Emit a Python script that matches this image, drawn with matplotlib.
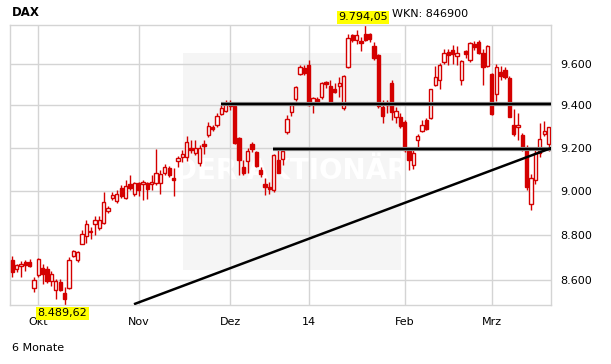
import matplotlib
matplotlib.use('Agg')
import matplotlib.pyplot as plt
from matplotlib.ticker import FixedLocator, NullLocator, FixedFormatter
from matplotlib.patches import Rectangle

# ---------------- data (DAX, daily, ~6 months) ----------------
opens = [8685, 8648, 8660, 8680, 8677, 8565, 8620, 8652, 8649, 8594,
         8554, 8591, 8543, 8565, 8704, 8686, 8759, 8792, 8811, 8849,
         8830, 8853, 8908, 8966, 8951, 9014, 8966, 9030, 8986, 9034,
         9032, 9034, 9032, 9034, 9034, 9081, 9106, 9058, 9135, 9154,
         9154, 9200, 9174, 9127, 9217, 9259, 9296, 9307, 9359, 9375,
         9410, 9399, 9244, 9108, 9139, 9216, 9178, 9096, 9031, 9019,
         9004, 9142, 9145, 9275, 9370, 9429, 9552, 9582, 9595, 9414,
         9429, 9442, 9514, 9493, 9477, 9496, 9387, 9587, 9743, 9718,
         9714, 9751, 9751, 9688, 9644, 9392, 9407, 9506, 9343, 9343,
         9321, 9185, 9120, 9236, 9278, 9332, 9339, 9501, 9522, 9611,
         9660, 9672, 9639, 9522, 9664, 9620, 9701, 9709, 9657, 9590,
         9552, 9455, 9563, 9574, 9535, 9307, 9296, 9259, 9197, 8939,
         9047, 9176, 9264, 9217]
highs = [8704, 8671, 8682, 8689, 8692, 8610, 8694, 8667, 8660, 8638,
         8601, 8605, 8566, 8699, 8733, 8726, 8823, 8864, 8833, 8883,
         8883, 8992, 8931, 8996, 9004, 9027, 9050, 9073, 9042, 9042,
         9050, 9042, 9070, 9192, 9096, 9124, 9112, 9104, 9162, 9189,
         9254, 9236, 9236, 9212, 9236, 9322, 9307, 9362, 9402, 9426,
         9426, 9402, 9251, 9142, 9197, 9228, 9184, 9111, 9058, 9042,
         9171, 9189, 9192, 9354, 9413, 9493, 9595, 9595, 9619, 9442,
         9442, 9514, 9519, 9522, 9509, 9538, 9547, 9751, 9751, 9770,
         9734, 9794.05, 9754, 9709, 9652, 9426, 9426, 9522, 9394, 9362,
         9330, 9200, 9190, 9265, 9330, 9340, 9481, 9590, 9606, 9677,
         9677, 9693, 9688, 9623, 9672, 9709, 9714, 9718, 9677, 9693,
         9555, 9603, 9590, 9587, 9542, 9383, 9364, 9269, 9212, 9078,
         9204, 9314, 9328, 9298]
lows = [8610, 8632, 8610, 8638, 8658, 8546, 8613, 8579, 8587, 8572,
        8514, 8550, 8489.62, 8561, 8701, 8677, 8756, 8763, 8781, 8800,
        8822, 8850, 8898, 8958, 8943, 8966, 8961, 9004, 8974, 8974,
        8958, 8961, 9004, 9027, 8986, 9073, 9065, 8977, 9110, 9132,
        9139, 9174, 9166, 9114, 9171, 9252, 9276, 9296, 9354, 9370,
        9378, 9217, 9073, 9073, 9081, 9181, 9108, 9065, 8981, 8986,
        8996, 9081, 9120, 9264, 9349, 9422, 9547, 9547, 9397, 9365,
        9410, 9429, 9482, 9402, 9458, 9442, 9378, 9579, 9709, 9700,
        9665, 9714, 9709, 9620, 9390, 9317, 9364, 9330, 9317, 9291,
        9180, 9095, 9100, 9200, 9272, 9283, 9334, 9494, 9477, 9603,
        9595, 9603, 9595, 9498, 9628, 9611, 9668, 9652, 9498, 9587,
        9354, 9423, 9522, 9530, 9343, 9255, 9236, 9185, 9004, 8910,
        9030, 9155, 9255, 9183]
closes = [8634, 8664, 8667, 8664, 8660, 8597, 8692, 8627, 8594, 8627,
          8594, 8554, 8517, 8689, 8729, 8723, 8803, 8848, 8818, 8868,
          8868, 8948, 8920, 8981, 8986, 8977, 9022, 9010, 9034, 9004,
          9039, 9007, 9042, 9081, 9076, 9110, 9073, 9050, 9150, 9169,
          9225, 9189, 9200, 9197, 9208, 9302, 9286, 9349, 9387, 9407,
          9399, 9220, 9141, 9083, 9185, 9192, 9112, 9076, 9015, 9007,
          9163, 9083, 9184, 9334, 9402, 9487, 9587, 9558, 9402, 9434,
          9418, 9506, 9503, 9418, 9466, 9508, 9542, 9731, 9718, 9743,
          9704, 9721, 9726, 9628, 9397, 9348, 9402, 9370, 9373, 9302,
          9189, 9140, 9175, 9255, 9305, 9288, 9477, 9538, 9595, 9657,
          9644, 9652, 9657, 9616, 9652, 9704, 9685, 9657, 9584, 9688,
          9358, 9587, 9542, 9538, 9346, 9266, 9307, 9192, 9015, 9058,
          9176, 9241, 9279, 9295]

month_labels = ['Okt', 'Nov', 'Dez', '14', 'Feb', 'Mrz']
month_index = [6, 29, 50, 68, 90, 110]          # first trading day of month
y_ticks = [8600, 8800, 9000, 9200, 9400, 9600]
y_tick_labels = ['8.600', '8.800', '9.000', '9.200', '9.400', '9.600']

high_label, high_index = '9.794,05', 81
low_label, low_index = '8.489,62', 12

# support / resistance / trend lines (drawn analysis lines)
resist_level, resist_start = 9407, 47.9
support_level, support_start = 9194, 59.9
trend_start = (28.2, 8495)
trend_end = (123.5, 9197)

# ---------------- figure ----------------
W, H = 611, 364
fig = plt.figure(figsize=(W / 100, H / 100), dpi=100)
ax = fig.add_axes([10 / W, (H - 305) / H, 540.7 / W, 280 / H])

RED = '#d40000'
GRID = '#d4d4d4'

n = len(closes)
ax.set_yscale('log')
ax.set_xlim(-0.5, n - 0.5)
ax.set_ylim(min(lows), max(highs))

# watermark box and text
ax.add_patch(Rectangle((0.32, 0.125), 0.403, 0.775, transform=ax.transAxes,
                       facecolor='#f5f5f5', edgecolor='none', zorder=0.2))
ax.text(0.52, 0.48, 'DER AKTIONÄR', transform=ax.transAxes, ha='center', va='center',
        fontsize=20, fontweight='bold', color='white', zorder=0.3)

# candles
width = 0.75
for i in range(n):
    o, h, l, c = opens[i], highs[i], lows[i], closes[i]
    ax.vlines(i, l, h, color=RED, linewidth=1.0, zorder=2)
    bottom, top = min(o, c), max(o, c)
    if top - bottom < 1.5:
        top = bottom + 1.5
    face = 'white' if c >= o else RED
    ax.bar(i, top - bottom, bottom=bottom, width=width, facecolor=face,
           edgecolor=RED, linewidth=1.0, zorder=3)

# analysis lines
for lw, col in ((3.0, '#8a8a8a'), (1.6, '#000000')):
    ax.plot([resist_start, n - 0.5], [resist_level, resist_level], color=col, lw=lw,
            solid_capstyle='butt', zorder=4)
    ax.plot([support_start, n - 0.5], [support_level, support_level], color=col, lw=lw,
            solid_capstyle='butt', zorder=4)
ax.plot([trend_start[0], trend_end[0]], [trend_start[1], trend_end[1]], color='black',
        lw=1.8, zorder=4)

# axes styling
ax.set_axisbelow(True)
ax.yaxis.set_major_locator(FixedLocator(y_ticks))
ax.yaxis.set_major_formatter(FixedFormatter(y_tick_labels))
ax.yaxis.set_minor_locator(NullLocator())
ax.yaxis.tick_right()
ax.set_xticks(month_index)
ax.set_xticklabels(month_labels)
ax.tick_params(axis='y', length=0, pad=7, labelsize=8)
ax.tick_params(axis='x', length=0, pad=8.5, labelsize=8)
ax.grid(True, color=GRID, linewidth=1.0)
for s in ax.spines.values():
    s.set_color(GRID)
    s.set_linewidth(1.0)

# high / low labels
ax.annotate(high_label, xy=(high_index, 1.0), xycoords=('data', 'axes fraction'),
            xytext=(-1.5, 2), textcoords='offset points', ha='center', va='bottom',
            fontsize=8, bbox=dict(boxstyle='square,pad=0.12', fc='#ffff00', ec='none'),
            annotation_clip=False, zorder=6)
ax.annotate(low_label, xy=(low_index, 0.0), xycoords=('data', 'axes fraction'),
            xytext=(-1.5, -2.5), textcoords='offset points', ha='center', va='top',
            fontsize=8, bbox=dict(boxstyle='square,pad=0.12', fc='#ffff00', ec='none'),
            annotation_clip=False, zorder=6)

fig.text(12 / W, 1 - 12.5 / H, 'DAX', fontsize=8.5, fontweight='bold', ha='left', va='center')
fig.text(392 / W, 1 - 14 / H, 'WKN: 846900', fontsize=8, ha='left', va='center')
fig.text(12 / W, 1 - 348 / H, '6 Monate', fontsize=8, ha='left', va='center')

fig.savefig('out.png', dpi=100)
